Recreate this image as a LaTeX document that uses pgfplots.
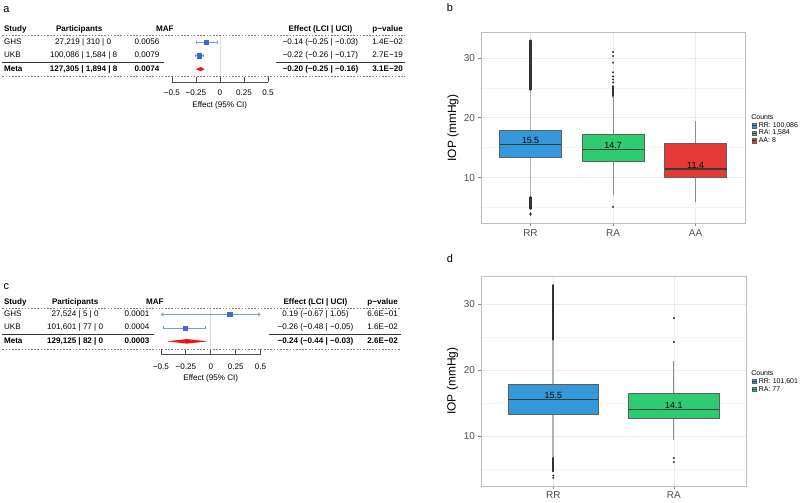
\documentclass[border=0pt]{standalone}
\usepackage{fontspec}
\setmainfont{Liberation Sans}
\usepackage{pgfplots}
\pgfplotsset{compat=1.18}
\usepgfplotslibrary{statistics}
\usetikzlibrary{arrows.meta}

\definecolor{rrblue}{RGB}{52,152,219}
\definecolor{ragreen}{RGB}{46,204,113}
\definecolor{aared}{RGB}{229,57,53}
\definecolor{ptblue}{RGB}{65,100,225}
\definecolor{ciblue}{RGB}{120,150,235}
\definecolor{metared}{RGB}{240,20,20}
\definecolor{refgray}{RGB}{220,220,220}
\definecolor{axgray}{RGB}{80,80,80}
\definecolor{gridgray}{RGB}{235,235,235}
\definecolor{framegray}{RGB}{190,190,190}
\definecolor{ticktext}{RGB}{77,77,77}
\definecolor{outl}{RGB}{50,50,50}
\definecolor{boxedge}{RGB}{95,95,95}
\definecolor{meddark}{RGB}{55,60,62}

\newcommand{\fs}[1]{\fontsize{#1bp}{#1bp}\selectfont}

\pgfplotsset{
  forest/.style={
    scale only axis, anchor=south west, clip=false,
    height=46.5bp, xmin=-0.5, xmax=0.5, ymin=-3.963, ymax=-0.519,
    axis x line*=bottom, axis y line=none,
    xtick={-0.5,-0.25,0,0.25,0.5},
    xticklabels={−0.5,−0.25,0,0.25,0.5},
    tick align=inside, major tick length=5bp,
    axis line style={draw=axgray, line width=0.7bp},
    tick style={draw=axgray, line width=0.7bp},
    xticklabel style={font=\fs{8.1}, text=black, yshift=-4bp},
  },
  iop/.style={
    scale only axis, anchor=south west,
    ytick={10,20,30}, minor ytick={5,15,25},
    grid=both,
    major grid style={draw=gridgray, line width=0.5bp},
    minor grid style={draw=gridgray!55, line width=0.35bp},
    axis line style={draw=framegray, line width=0.8bp},
    tick pos=left, tick align=outside, major tick length=2.5bp, minor tick length=0pt,
    tick style={draw=gray, line width=0.5bp},
    tick label style={font=\fs{10}, text=ticktext},
    /pgf/number format/assume math mode=true,
    ylabel={IOP (mmHg)},
    ylabel style={font=\fs{12}, anchor=center},
    boxplot/draw direction=y,
    boxplot/box extend=0.75, boxplot/whisker extend=0,
    boxplot/every median/.style={draw=meddark, line width=1.3bp},
  },
  bx/.style={draw=boxedge, line width=0.6bp, fill=#1},
  wk1/.style={boxplot/every whisker/.style={draw=gray!60, line width=1.8bp}},
  wk2/.style={boxplot/every whisker/.style={draw=gray!90, line width=0.8bp}},
  dense/.style={outl, line width=2.2bp, line cap=round},
  outp/.style={only marks, mark=*, mark size=0.8bp, outl},
}

\begin{document}
\begin{tikzpicture}
\begin{scope}[x=1bp,y=-1bp]
\path[use as bounding box] (0,0) rectangle (800,497);
\end{scope}

% ---------- a: forest plot ----------
\begin{axis}[forest, at={(170bp,-81.5bp)}, width=96.5bp]
\addplot[refgray, line width=0.8bp] coordinates {(0,-0.52)(0,-3.55)};
\addplot[ciblue, line width=0.7bp, mark=|, mark size=1.6bp] coordinates {(-0.25,-1)(-0.03,-1)};
\addplot[ciblue, line width=0.7bp, mark=|, mark size=1.6bp] coordinates {(-0.26,-2)(-0.17,-2)};
\addplot[only marks, mark=square*, ptblue, mark size=2.1bp] coordinates {(-0.14,-1)(-0.22,-2)};
\addplot[fill=metared, draw=none] coordinates {(-0.25,-3)(-0.20,-2.84)(-0.16,-3)(-0.20,-3.16)} -- cycle;
\end{axis}

% ---------- c: forest plot ----------
\begin{axis}[forest, at={(159bp,-354.5bp)}, width=100bp,
  xticklabel style={yshift=-2bp}]
\addplot[refgray, line width=0.8bp] coordinates {(0,-0.52)(0,-3.55)};
\addplot[ciblue, line width=0.7bp, {Straight Barb[length=2bp,width=3.5bp]}-{Straight Barb[length=2bp,width=3.5bp]}] coordinates {(-0.5,-1)(0.5,-1)};
\addplot[ciblue, line width=0.7bp, mark=|, mark size=1.6bp] coordinates {(-0.48,-2)(-0.05,-2)};
\addplot[only marks, mark=square*, ptblue, mark size=2.1bp] coordinates {(0.19,-1)(-0.26,-2)};
\addplot[fill=metared, draw=none] coordinates {(-0.44,-3)(-0.24,-2.83)(-0.03,-3)(-0.24,-3.17)} -- cycle;
\end{axis}

% ---------- b: box plot ----------
\begin{axis}[iop, at={(480bp,-223bp)}, width=265bp, height=191bp,
  xmin=0.4, xmax=3.6, ymin=2.38, ymax=34.2,
  xtick={1,2,3}, xticklabels={RR,RA,AA},
  ylabel style={at={(axis description cs:-0.106,0.5)}}]
\addplot[bx=rrblue, wk1, boxplot prepared={draw position=1, lower whisker=6.7,
  lower quartile=13.4, median=15.55, upper quartile=17.9, upper whisker=24.6}] coordinates {};
\addplot[bx=ragreen, wk2, boxplot prepared={draw position=2, lower whisker=7.05,
  lower quartile=12.8, median=14.75, upper quartile=17.2, upper whisker=23.5}] coordinates {};
\addplot[bx=aared, wk2, boxplot prepared={draw position=3, lower whisker=5.9,
  lower quartile=10.1, median=11.45, upper quartile=15.8, upper whisker=19.4}] coordinates {};
\addplot[dense] coordinates {(1,24.7)(1,32.9)};
\addplot[dense] coordinates {(1,4.8)(1,6.7)};
\addplot[outp] coordinates {(1,4.0)(1,3.8)};
\addplot[dense, line width=1.7bp] coordinates {(2,23.6)(2,25.3)};
\addplot[outp] coordinates {(2,31.0)(2,30.3)(2,29.2)(2,27.6)(2,26.9)(2,26.4)(2,25.9)(2,5.1)};
\node[font=\fs{9}, yshift=4bp] at (axis cs:1,15.55) {15.5};
\node[font=\fs{9}, yshift=4bp] at (axis cs:2,14.75) {14.7};
\node[font=\fs{9}, yshift=4bp] at (axis cs:3,11.45) {11.4};
\end{axis}

% ---------- d: box plot ----------
\begin{axis}[iop, at={(480bp,-486.7bp)}, width=266bp, height=210.7bp,
  xmin=0.4, xmax=2.6, ymin=2.45, ymax=34.27,
  xtick={1,2}, xticklabels={RR,RA},
  ylabel style={at={(axis description cs:-0.107,0.5)}}]
\addplot[bx=rrblue, wk1, boxplot prepared={draw position=1, lower whisker=6.7,
  lower quartile=13.4, median=15.55, upper quartile=17.9, upper whisker=24.5}] coordinates {};
\addplot[bx=ragreen, wk2, boxplot prepared={draw position=2, lower whisker=9.5,
  lower quartile=12.7, median=14.1, upper quartile=16.55, upper whisker=21.4}] coordinates {};
\addplot[dense] coordinates {(1,24.6)(1,32.9)};
\addplot[dense] coordinates {(1,4.7)(1,6.7)};
\addplot[outp] coordinates {(1,4.05)(1,3.7)};
\addplot[outp] coordinates {(2,27.9)(2,24.3)(2,6.7)(2,6.1)};
\node[font=\fs{9}, yshift=4bp] at (axis cs:1,15.55) {15.5};
\node[font=\fs{9}, yshift=4bp] at (axis cs:2,14.1) {14.1};
\end{axis}

\begin{scope}[x=1bp,y=-1bp]
\tikzset{tx/.style={font=\fs{8.1}, inner sep=0pt, text height=5.8bp, text depth=1.7bp},
  bt/.style={tx, font=\fs{8.1}\bfseries},
  dl/.style={draw=gray, line width=0.6bp, dash pattern=on 1.6bp off 1.6bp},
  sl/.style={draw=black!80, line width=0.7bp},
  lg/.style={font=\fs{7}, inner sep=0pt, anchor=west}}
% panel letters
\node[font=\fs{11}] at (4,8.5) {a};
\node[font=\fs{11}] at (449,6.5) {b};
\node[font=\fs{11}] at (4,287) {c};
\node[font=\fs{11}] at (449,258) {d};

% ---- table a ----
\draw[dl] (0,35) -- (404,35);
\draw[dl] (0,76) -- (404,76);
\draw[sl] (0,61.5) -- (162,61.5);
\draw[sl] (274,61.5) -- (404,61.5);
\node[bt, anchor=west] at (1.5,29) {Study};
\node[bt] at (77,29) {Participants};
\node[bt] at (163,29) {MAF};
\node[bt] at (319,29) {Effect (LCI | UCI)};
\node[bt, anchor=west] at (371,29) {p−value};
\node[tx, anchor=west] at (1.5,41.5) {GHS};
\node[tx, anchor=west] at (1.5,55) {UKB};
\node[bt, anchor=west] at (1.5,68.5) {Meta};
\node[tx] at (81,41.5) {27,219 | 310 | 0};
\node[tx] at (81.5,55) {100,086 | 1,584 | 8};
\node[bt] at (81.5,68.5) {127,305 | 1,894 | 8};
\node[tx] at (145,41.5) {0.0056};
\node[tx] at (145,55) {0.0079};
\node[bt] at (145,68.5) {0.0074};
\node[tx] at (319,41.5) {−0.14 (−0.25 | −0.03)};
\node[tx] at (319,55) {−0.22 (−0.26 | −0.17)};
\node[bt] at (319,68.5) {−0.20 (−0.25 | −0.16)};
\node[tx, anchor=west] at (371,41.5) {1.4E−02};
\node[tx, anchor=west] at (371,55) {2.7E−19};
\node[bt, anchor=west] at (371,68.5) {3.1E−20};
\node[tx] at (218,105) {Effect (95\% CI)};

% ---- table c ----
\draw[dl] (0,308) -- (400,308);
\draw[dl] (0,349) -- (400,349);
\draw[sl] (0,334.5) -- (152,334.5);
\draw[sl] (267,334.5) -- (400,334.5);
\node[bt, anchor=west] at (1.5,302) {Study};
\node[bt] at (73,302) {Participants};
\node[bt] at (153,302) {MAF};
\node[bt] at (314,302) {Effect (LCI | UCI)};
\node[bt, anchor=west] at (366,302) {p−value};
\node[tx, anchor=west] at (1.5,314.5) {GHS};
\node[tx, anchor=west] at (1.5,328) {UKB};
\node[bt, anchor=west] at (1.5,341.5) {Meta};
\node[tx] at (73,314.5) {27,524 | 5 | 0};
\node[tx] at (73,328) {101,601 | 77 | 0};
\node[bt] at (73,341.5) {129,125 | 82 | 0};
\node[tx] at (135,314.5) {0.0001};
\node[tx] at (135,328) {0.0004};
\node[bt] at (135,341.5) {0.0003};
\node[tx] at (314,314.5) {0.19 (−0.67 | 1.05)};
\node[tx] at (314,328) {−0.26 (−0.48 | −0.05)};
\node[bt] at (314,341.5) {−0.24 (−0.44 | −0.03)};
\node[tx, anchor=west] at (366,314.5) {6.6E−01};
\node[tx, anchor=west] at (366,328) {1.6E−02};
\node[bt, anchor=west] at (366,341.5) {2.6E−02};
\node[tx] at (209,379) {Effect (95\% CI)};

% ---- legends ----
\node[lg] at (751,116.5) {Counts};
\foreach \yy/\cc/\tt in {125/rrblue/{RR: 100,086}, 132.5/ragreen/{RA: 1,584}, 140/aared/{AA: 8}}{
  \filldraw[fill=\cc, draw=boxedge, line width=0.3bp] (751.8,\yy-2.3) rectangle (756.2,\yy+2.3);
  \draw[meddark, line width=0.5bp] (751.8,\yy) -- (756.2,\yy);
  \node[lg] at (758.5,\yy) {\tt};
}
\node[lg] at (751,373) {Counts};
\foreach \yy/\cc/\tt in {381.5/rrblue/{RR: 101,601}, 389.5/ragreen/{RA: 77}}{
  \filldraw[fill=\cc, draw=boxedge, line width=0.3bp] (751.8,\yy-2.3) rectangle (756.2,\yy+2.3);
  \draw[meddark, line width=0.5bp] (751.8,\yy) -- (756.2,\yy);
  \node[lg] at (758.5,\yy) {\tt};
}
\end{scope}
\end{tikzpicture}
\end{document}
